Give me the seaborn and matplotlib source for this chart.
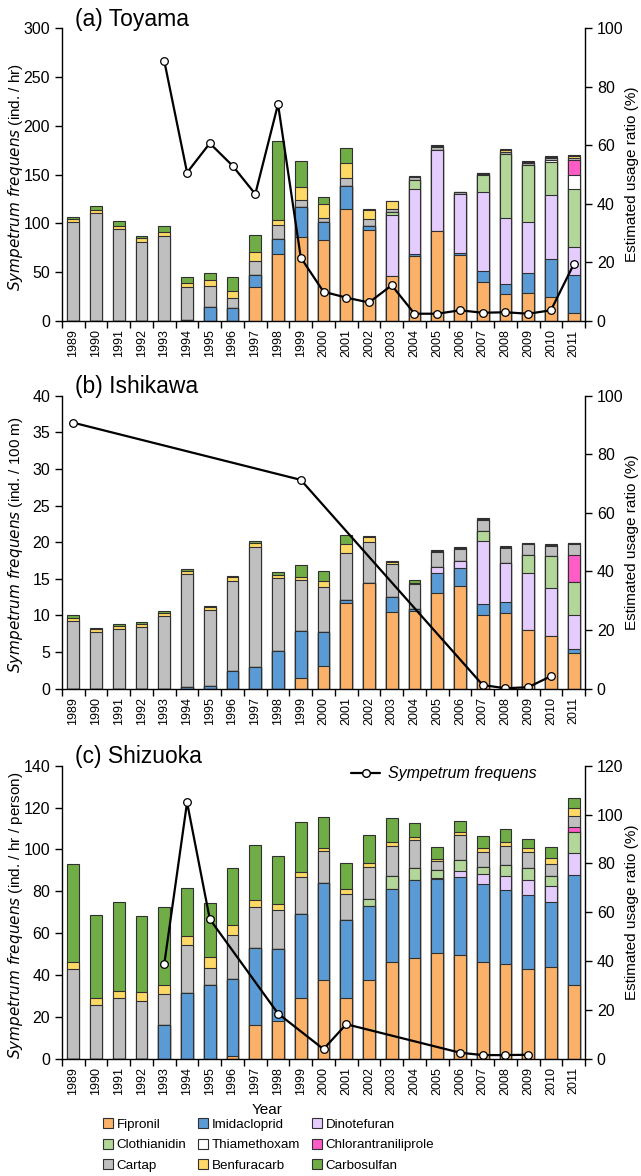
import numpy as np
import pandas as pd
import matplotlib
matplotlib.use('Agg')
import matplotlib.pyplot as plt
from matplotlib.lines import Line2D
from matplotlib.patches import Patch
import seaborn as sns

# ---------------------------------------------------------------------------------------
## 0. Data (usage ratio in %, dragonfly density in panel units)

years = [str(y) for y in range(1989, 2012)]
insecticides = ['Fipronil', 'Imidacloprid', 'Dinotefuran', 'Clothianidin', 'Thiamethoxam',
                'Chlorantraniliprole', 'Cartap', 'Benfuracarb', 'Carbosulfan']
colors = ['#FBB268', '#5B9BD5', '#E5CCFF', '#B3D699', '#FFFFFF',
          '#FF5CC8', '#BFBFBF', '#FFD966', '#70AD47']

# (a) Toyama
toyama_fipronil = [0, 0, 0, 0, 0, 0, 0, 0, 11.7, 23.0, 28.7, 27.6, 38.4, 31.0, 15.3, 22.2, 30.8, 22.5, 13.2, 9.4, 9.6, 8.2, 2.6]
toyama_imidacloprid = [0, 0, 0, 0, 0, 0.5, 4.7, 4.5, 4.0, 5.0, 10.3, 6.2, 7.8, 1.5, 0, 0.7, 0, 0.6, 3.8, 3.4, 6.7, 13.0, 13.2]
toyama_dinotefuran = [0, 0, 0, 0, 0, 0, 0, 0, 0, 0, 0, 0, 0, 0, 21.0, 22.1, 27.7, 20.2, 26.9, 22.3, 17.6, 21.7, 9.3]
toyama_clothianidin = [0, 0, 0, 0, 0, 0, 0, 0, 0, 0, 0, 0, 0, 0, 1.0, 3.3, 0, 0, 5.9, 22.0, 19.3, 11.3, 20.1]
toyama_thiamethoxam = [0, 0, 0, 0, 0, 0, 0, 0, 0, 0, 0, 0, 0, 0, 0, 0, 0, 0, 0, 0, 0, 0.8, 4.5]
toyama_chlorantraniliprole = [0, 0, 0, 0, 0, 0, 0, 0, 0, 0, 0, 0, 0, 0, 0, 0, 0, 0, 0, 0, 0, 0, 5.1]
toyama_cartap = [33.7, 36.7, 31.3, 27.0, 29.0, 11.2, 7.3, 3.5, 4.7, 4.7, 2.3, 1.5, 2.5, 2.3, 1.1, 0.7, 1.0, 0.6, 0.4, 0.7, 0.7, 0.6, 1.0]
toyama_benfuracarb = [1.0, 1.2, 1.0, 1.3, 1.3, 1.2, 2.0, 2.3, 3.0, 1.7, 4.3, 4.6, 5.1, 3.1, 2.4, 0.2, 0.3, 0.15, 0.2, 0.4, 0.3, 0.3, 0.4]
toyama_carbosulfan = [0.8, 1.2, 1.7, 0.8, 2.0, 2.0, 2.5, 4.8, 6.0, 27.0, 9.0, 2.5, 5.4, 0.3, 0.2, 0.2, 0.3, 0.15, 0.2, 0.5, 0.4, 0.3, 0.4]
toyama_dragonfly = [np.nan, np.nan, np.nan, np.nan, 266, 152, 182, 159, 130, 222, 65, 30, 24, 19, 36.6, 7.5, 7.5, 11, 8.5, 9, 7.5, 11, 58]

# (b) Ishikawa
ishikawa_fipronil = [0, 0, 0, 0, 0, 0, 0, 0, 0, 0, 3.5, 7.8, 29.4, 36.2, 26.3, 26.6, 32.5, 35.2, 25.0, 25.7, 20.0, 18.0, 12.3]
ishikawa_imidacloprid = [0, 0, 0, 0, 0, 0.4, 1.0, 6.0, 7.25, 12.75, 16.25, 11.4, 0.9, 0, 4.9, 0.6, 7.0, 6.1, 3.9, 3.9, 0, 0, 1.2]
ishikawa_dinotefuran = [0, 0, 0, 0, 0, 0, 0, 0, 0, 0, 0, 0, 0, 0, 0, 0, 1.9, 2.3, 21.6, 13.2, 19.6, 16.2, 11.7]
ishikawa_clothianidin = [0, 0, 0, 0, 0, 0, 0, 0, 0, 0, 0, 0, 0, 0, 0, 0, 0, 0, 3.2, 0, 5.9, 10.9, 11.3]
ishikawa_thiamethoxam = [0] * 23
ishikawa_chlorantraniliprole = [0, 0, 0, 0, 0, 0, 0, 0, 0, 0, 0, 0, 0, 0, 0, 0, 0, 0, 0, 0, 0, 0, 9.1]
ishikawa_cartap = [23.0, 19.25, 20.5, 21.0, 24.75, 38.6, 26.0, 30.75, 41.0, 25.0, 17.5, 15.6, 16.1, 13.9, 11.3, 8.4, 5.4, 4.1, 3.8, 5.2, 3.8, 3.6, 3.7]
ishikawa_benfuracarb = [1.0, 1.0, 0.75, 1.0, 1.0, 1.0, 1.0, 1.25, 1.5, 1.0, 1.0, 2.1, 3.1, 1.7, 0.7, 0.3, 0.3, 0.3, 0.3, 0.3, 0.15, 0.3, 0.25]
ishikawa_carbosulfan = [1.0, 0.4, 0.75, 0.6, 0.75, 0.75, 0.25, 0.5, 0.75, 1.0, 4.0, 3.2, 3.1, 0.3, 0.4, 1.3, 0.3, 0.2, 0.3, 0.3, 0.15, 0.3, 0.25]
ishikawa_dragonfly = [36.3, np.nan, np.nan, np.nan, np.nan, np.nan, np.nan, np.nan, np.nan, np.nan, 28.5,
                      np.nan, np.nan, np.nan, np.nan, np.nan, np.nan, np.nan, 0.5, 0.05, 0.2, 1.7, np.nan]

# (c) Shizuoka
shizuoka_fipronil = [0, 0, 0, 0, 0, 0, 0, 1.3, 13.7, 15.4, 24.9, 32.4, 24.7, 32.4, 39.6, 41.4, 43.2, 42.5, 39.6, 38.8, 36.8, 37.7, 30.0]
shizuoka_imidacloprid = [0, 0, 0, 0, 13.7, 27.0, 30.4, 31.3, 31.7, 29.6, 34.3, 39.5, 32.0, 30.3, 30.0, 31.9, 30.5, 32.0, 31.9, 30.5, 30.1, 26.6, 45.1]
shizuoka_dinotefuran = [0, 0, 0, 0, 0, 0, 0, 0, 0, 0, 0, 0, 0, 0, 0, 0, 0.5, 2.2, 4.0, 5.6, 6.1, 6.3, 9.1]
shizuoka_clothianidin = [0, 0, 0, 0, 0, 0, 0, 0, 0, 0, 0, 0, 0, 2.7, 5.3, 4.8, 2.9, 4.8, 3.2, 4.5, 5.0, 4.3, 8.8]
shizuoka_thiamethoxam = [0] * 23
shizuoka_chlorantraniliprole = [0, 0, 0, 0, 0, 0, 0, 0, 0, 0, 0, 0, 0, 0, 0, 0, 0, 0, 0, 0, 0, 0, 2.1]
shizuoka_cartap = [36.9, 21.9, 24.9, 23.6, 12.9, 19.7, 6.9, 18.0, 16.7, 15.9, 15.4, 13.0, 10.9, 13.2, 12.3, 11.6, 3.7, 10.0, 5.8, 7.9, 6.5, 4.9, 4.5]
shizuoka_benfuracarb = [2.6, 3.0, 3.0, 3.9, 3.4, 3.4, 4.3, 4.3, 3.0, 2.6, 1.7, 1.5, 1.9, 1.5, 1.6, 1.0, 1.1, 1.5, 2.0, 1.5, 1.7, 2.5, 3.0]
shizuoka_carbosulfan = [40.3, 33.9, 36.4, 30.9, 32.1, 19.7, 22.3, 23.1, 22.3, 19.7, 20.6, 12.5, 10.6, 11.6, 9.7, 5.9, 5.0, 4.3, 4.9, 5.1, 3.7, 4.3, 4.2]
shizuoka_dragonfly = [np.nan, np.nan, np.nan, np.nan, 45.4, 122.5, 66.7, np.nan, np.nan, 21.6, np.nan, 4.6, 16.5,
                      np.nan, np.nan, np.nan, np.nan, 2.9, 1.75, 1.75, 1.9, np.nan, np.nan]

panels = [
    dict(title='(a) Toyama', unit='(ind. / hr)', ymax=300, ystep=50, rmax=100,
         usage=[toyama_fipronil, toyama_imidacloprid, toyama_dinotefuran, toyama_clothianidin,
                toyama_thiamethoxam, toyama_chlorantraniliprole, toyama_cartap,
                toyama_benfuracarb, toyama_carbosulfan],
         dragonfly=toyama_dragonfly, bottom=0.7270),
    dict(title='(b) Ishikawa', unit='(ind. / 100 m)', ymax=40, ystep=5, rmax=100,
         usage=[ishikawa_fipronil, ishikawa_imidacloprid, ishikawa_dinotefuran, ishikawa_clothianidin,
                ishikawa_thiamethoxam, ishikawa_chlorantraniliprole, ishikawa_cartap,
                ishikawa_benfuracarb, ishikawa_carbosulfan],
         dragonfly=ishikawa_dragonfly, bottom=0.4144),
    dict(title='(c) Shizuoka', unit='(ind. / hr / person)', ymax=140, ystep=20, rmax=120,
         usage=[shizuoka_fipronil, shizuoka_imidacloprid, shizuoka_dinotefuran, shizuoka_clothianidin,
                shizuoka_thiamethoxam, shizuoka_chlorantraniliprole, shizuoka_cartap,
                shizuoka_benfuracarb, shizuoka_carbosulfan],
         dragonfly=shizuoka_dragonfly, bottom=0.0997),
]

# ---------------------------------------------------------------------------------------
## 1. Figure

sns.set_style('ticks')
plt.rcParams['font.family'] = ['Liberation Sans', 'DejaVu Sans']
plt.rcParams['axes.linewidth'] = 1.0
for key in ['text.color', 'axes.labelcolor', 'xtick.color', 'ytick.color', 'axes.edgecolor']:
    plt.rcParams[key] = 'black'

fig = plt.figure(figsize=(6.41, 11.76), dpi=100)
pos = np.arange(len(years))

for i, p in enumerate(panels):
    ax = fig.add_axes([0.0967, p['bottom'], 0.816, 0.2492])
    ax2 = ax.twinx()

    # stacked bars: draw cumulative totals from the top layer down
    stack = np.cumsum(np.array(p['usage'], dtype=float), axis=0)
    for k in range(len(insecticides) - 1, -1, -1):
        sns.barplot(x=years, y=stack[k], order=years, color=colors[k], saturation=1,
                    width=0.52, edgecolor='#303030', linewidth=0.8, errorbar=None, ax=ax2)

    # dragonfly line on the left axis, drawn above the bars
    df = pd.DataFrame({'pos': pos, 'val': p['dragonfly']}).dropna()
    sns.lineplot(data=df, x='pos', y='val', ax=ax, color='black', lw=1.6,
                 marker='o', markersize=5.5, markerfacecolor='white',
                 markeredgecolor='black', markeredgewidth=0.9)
    ax.set_zorder(ax2.get_zorder() + 1)
    ax.patch.set_visible(False)

    ax.set_xlim(-0.5, len(years) - 0.5)
    ax.set_ylim(0, p['ymax'])
    ax.set_yticks(np.arange(0, p['ymax'] + 1, p['ystep']))
    ax2.set_ylim(0, p['rmax'])
    ax2.set_yticks(np.arange(0, p['rmax'] + 1, 20))

    ax.set_xticks(pos)
    ax.set_xticklabels(years, rotation=90, fontsize=9)
    ax.set_xticks(np.arange(-0.5, len(years), 1), minor=True)
    ax.tick_params(axis='x', which='major', length=0, pad=6)
    ax.tick_params(axis='x', which='minor', length=5, width=1)
    ax.tick_params(axis='y', labelsize=11.5, length=5, width=1)
    ax2.tick_params(axis='y', labelsize=11.5, length=5, width=1)

    for s in ['top', 'right']:
        ax.spines[s].set_visible(False)
    for s in ['top', 'left', 'bottom']:
        ax2.spines[s].set_visible(False)

    ax.set_ylabel('$\\it{Sympetrum\\ frequens}$ ' + p['unit'], fontsize=11)
    ax.yaxis.set_label_coords(-0.071, 0.49)
    ax2.set_ylabel('Estimated usage ratio (%)', fontsize=11)
    ax2.yaxis.set_label_coords(1.076, 0.5)
    ax2.set_xlabel('')
    ax.set_xlabel('')

    ax.text(0.025, 1.03, p['title'], transform=ax.transAxes, fontsize=16.5,
            ha='left', va='center')

    if i == 2:
        ax.set_xlabel('Year', fontsize=11)
        ax.xaxis.set_label_coords(0.392, -0.15)
        h = Line2D([], [], color='black', lw=1.6, marker='o', markersize=5.5,
                   markerfacecolor='white', markeredgecolor='black')
        ax.legend([h], ['Sympetrum frequens'], loc='center right', bbox_to_anchor=(0.935, 0.972),
                  frameon=False, handlelength=1.8, handletextpad=0.5,
                  prop={'style': 'italic', 'size': 11.5})

# bottom legend, 3 x 3, filled row by row
order = [0, 3, 6, 1, 4, 7, 2, 5, 8]
handles = [Patch(facecolor=colors[k], edgecolor='#303030', linewidth=0.8) for k in order]
labels = [insecticides[k] for k in order]
fig.legend(handles, labels, ncol=3, loc='upper left', bbox_to_anchor=(0.152, 0.0535),
           frameon=False, fontsize=9.6, handlelength=0.75, handleheight=0.75,
           handletextpad=0.3, columnspacing=0.85, labelspacing=0.6, borderaxespad=0)

fig.savefig('out.png', dpi=100)
